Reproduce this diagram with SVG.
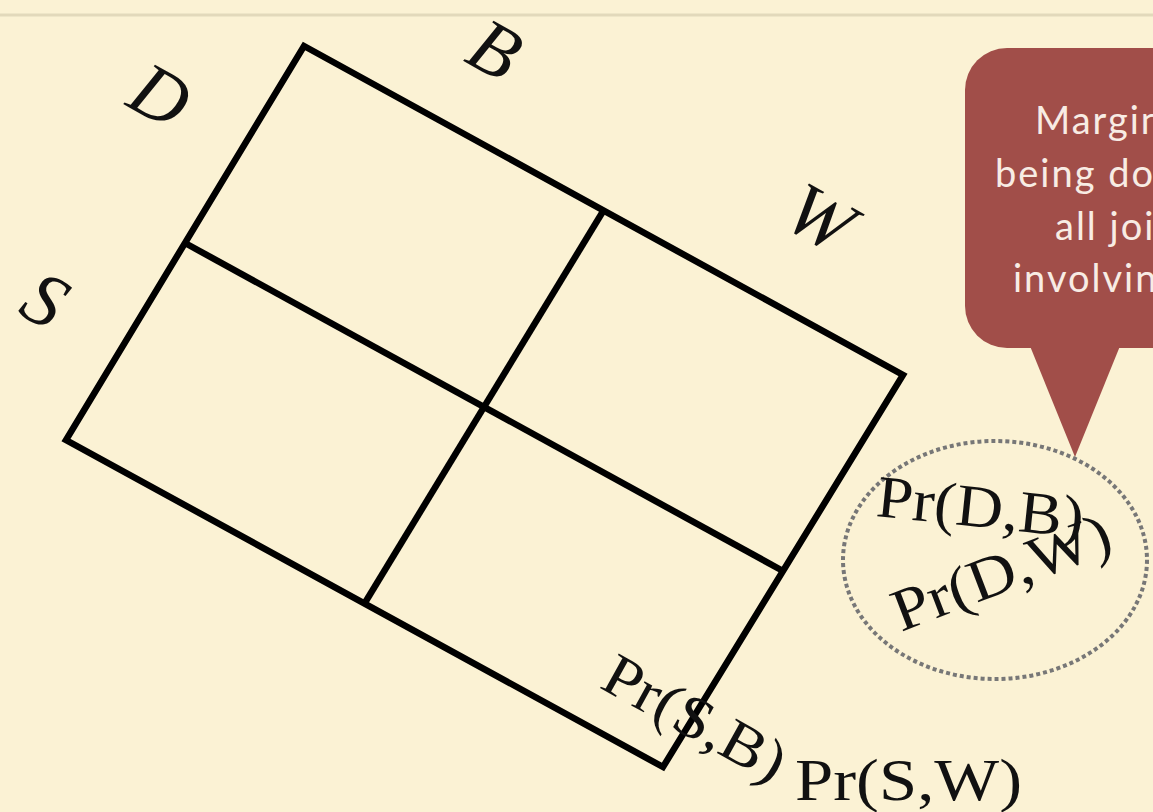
<svg xmlns="http://www.w3.org/2000/svg" width="1153" height="812" viewBox="0 0 1153 812">
<style>
.grid{fill:none;stroke:#000;stroke-width:6.5;stroke-linejoin:miter;stroke-linecap:butt}
.var{font-family:"Liberation Serif",serif;font-style:italic;font-size:76px;fill:#111;text-anchor:middle}
.pr{font-family:"Liberation Serif",serif;font-size:60px;fill:#111}
.bub{font-family:Lato,"Open Sans",sans-serif;font-size:38px;letter-spacing:2px;fill:#f8ece4}
</style>
<rect width="1153" height="812" fill="#fbf2d4"/>
<line x1="0" y1="15" x2="1153" y2="15" stroke="#e2d9bb" stroke-width="3"/>
<g id="grid">
<polygon class="grid" points="304,46 903,375 663,767 66,440"/>
<line class="grid" x1="185" y1="243" x2="783" y2="571"/>
<line class="grid" x1="603.5" y1="210.5" x2="364.5" y2="603.5"/>
</g>
<g id="label-D"><text class="var" transform="translate(160,96) rotate(29)" y="25">D</text></g>
<g id="label-B"><text class="var" transform="translate(495,50) rotate(29)" y="25">B</text></g>
<g id="label-W"><text class="var" transform="translate(820,218) rotate(29)" y="25">W</text></g>
<g id="label-S"><text class="var" transform="translate(45,300) rotate(29)" y="25">S</text></g>
<g id="bubble">
<rect x="965" y="48" width="260" height="300" rx="42" fill="#a14e49"/>
<polygon points="1030,346 1120,346 1075,457" fill="#a14e49"/>
<text class="bub" x="1035" y="134">Margin</text>
<text class="bub" x="995" y="187">being do</text>
<text class="bub" x="1055" y="240">all joi</text>
<text class="bub" x="1013" y="292">involvin</text>
</g>
<g id="ellipse">
<ellipse cx="995" cy="560" rx="152" ry="119" fill="none" stroke="#777" stroke-width="4" stroke-dasharray="4 3"/>
<text class="pr" transform="translate(875,516) rotate(6)" textLength="208" lengthAdjust="spacingAndGlyphs">Pr(D,B)</text>
<text class="pr" transform="translate(901,632) rotate(-21)" textLength="230" lengthAdjust="spacingAndGlyphs">Pr(D,W)</text>
</g>
<g id="label-SB"><text class="pr" transform="translate(598,687) rotate(29)" textLength="200" lengthAdjust="spacingAndGlyphs">Pr(S,B)</text></g>
<g id="label-SW"><text class="pr" x="795" y="800" textLength="227" lengthAdjust="spacingAndGlyphs">Pr(S,W)</text></g>
</svg>
